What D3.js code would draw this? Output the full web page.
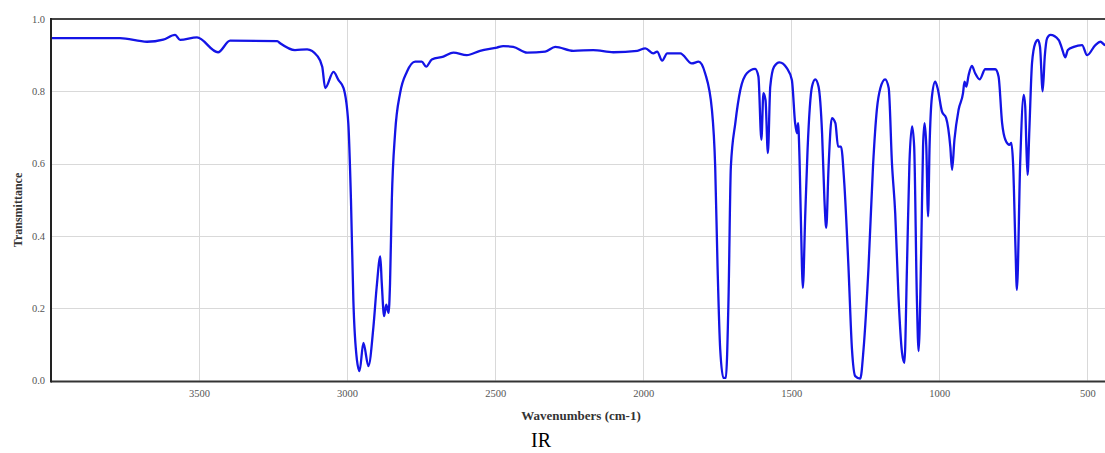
<!DOCTYPE html>
<html>
<head>
<meta charset="utf-8">
<script src="https://cdn.jsdelivr.net/npm/d3@7/dist/d3.min.js"></script>
<style>
  body { margin: 0; background: #fff; }
  svg { display: block; }
  .grid line { stroke: #d9d9d9; stroke-width: 1; }
</style>
</head>
<body>
<svg width="1105" height="453"></svg>
<script>
// spectrum: wavenumber (cm-1) and transmittance
var wavenumbers = [4000, 3767, 3676, 3621, 3581, 3564, 3507, 3436, 3395, 3236, 3226, 3176, 3135, 3101, 3084,
  3074, 3046, 3029, 3012, 2996, 2987, 2979, 2967, 2958, 2945, 2928, 2911, 2900, 2888, 2883,
  2875, 2868, 2860, 2855, 2849, 2838, 2821, 2798, 2770, 2748, 2733, 2714, 2675, 2641, 2596,
  2551, 2494, 2473, 2439, 2392, 2331, 2297, 2236, 2169, 2101, 2020, 1993, 1966, 1953, 1936,
  1919, 1875, 1836, 1813, 1791, 1768, 1757, 1749, 1740, 1729, 1721, 1712, 1704, 1689, 1672,
  1650, 1622, 1611, 1601, 1594, 1587, 1579, 1571, 1558, 1540, 1515, 1498, 1487, 1481, 1477,
  1472, 1464, 1461, 1453, 1445, 1430, 1419, 1408, 1396, 1388, 1382, 1374, 1363, 1351, 1342,
  1332, 1321, 1307, 1295, 1284, 1267, 1256, 1239, 1224, 1211, 1199, 1183, 1171, 1160, 1149,
  1138, 1126, 1118, 1109, 1101, 1092, 1085, 1076, 1070, 1061, 1055, 1050, 1044, 1038, 1033,
  1025, 1014, 1006, 991, 977, 963, 957, 949, 935, 920, 915, 909, 901, 890, 879,
  864, 845, 811, 800, 788, 777, 763, 757, 751, 743, 738, 727, 715, 710, 706,
  702, 696, 687, 676, 667, 660, 651, 644, 636, 625, 597, 586, 575, 566, 546,
  518, 501, 473, 456, 440, 400];
var transmittance = [0.947, 0.947, 0.937, 0.943, 0.956, 0.942, 0.949, 0.908, 0.94, 0.939, 0.933, 0.914, 0.916, 0.898, 0.868,
  0.809, 0.854, 0.831, 0.809, 0.712, 0.50, 0.224, 0.058, 0.026, 0.104, 0.04, 0.15, 0.26, 0.343, 0.27,
  0.178, 0.21, 0.187, 0.27, 0.5, 0.684, 0.795, 0.854, 0.882, 0.882, 0.868, 0.888, 0.896, 0.907, 0.90,
  0.912, 0.921, 0.925, 0.923, 0.907, 0.91, 0.923, 0.912, 0.914, 0.908, 0.912, 0.919, 0.905, 0.91, 0.885,
  0.905, 0.905, 0.877, 0.882, 0.85, 0.749, 0.592, 0.316, 0.086, 0.007, 0.007, 0.224, 0.592, 0.712, 0.804,
  0.85, 0.862, 0.841, 0.666, 0.795, 0.776, 0.629, 0.813, 0.868, 0.88, 0.864, 0.831, 0.712, 0.684, 0.712,
  0.61, 0.316, 0.256, 0.454, 0.638, 0.813, 0.833, 0.813, 0.684, 0.5, 0.422, 0.592, 0.726, 0.712, 0.647,
  0.647, 0.546, 0.316, 0.086, 0.012, 0.005, 0.086, 0.316, 0.592, 0.749, 0.809, 0.833, 0.809, 0.601, 0.463,
  0.233, 0.077, 0.049, 0.325, 0.601, 0.703, 0.647, 0.233, 0.081, 0.371, 0.647, 0.712, 0.647, 0.454, 0.647,
  0.785, 0.827, 0.809, 0.744, 0.726, 0.647, 0.583, 0.666, 0.749, 0.795, 0.827, 0.813, 0.845, 0.87, 0.85,
  0.833, 0.861, 0.861, 0.841, 0.712, 0.666, 0.652, 0.657, 0.601, 0.371, 0.251, 0.601, 0.79, 0.758, 0.647,
  0.569, 0.693, 0.878, 0.933, 0.942, 0.923, 0.80, 0.896, 0.947, 0.956, 0.942, 0.919, 0.894, 0.914, 0.923,
  0.928, 0.90, 0.928, 0.937, 0.928, 0.928];

var xTicks = [3500, 3000, 2500, 2000, 1500, 1000, 500];
var yTicks = [0.0, 0.2, 0.4, 0.6, 0.8, 1.0];

var svg = d3.select("svg"),
  margin = { top: 19, left: 51, bottom: 72 },
  plotRight = 1117, // plot runs past the window edge, like the reference
  height = +svg.attr("height") - margin.top - margin.bottom;

var x = d3.scaleLinear().domain([4000, 400]).range([margin.left, plotRight]),
  y = d3.scaleLinear().domain([0, 1]).range([margin.top + height - 0.5, margin.top]);

var data = wavenumbers.map(function(w, i) {
  return { w: w, t: transmittance[i] };
});

// grid
var grid = svg.append("g").attr("class", "grid");
grid.selectAll("line.v").data(xTicks).enter().append("line")
  .attr("class", "v")
  .attr("x1", function(d) { return Math.round(x(d)) + 0.5; })
  .attr("x2", function(d) { return Math.round(x(d)) + 0.5; })
  .attr("y1", y(1)).attr("y2", y(0));
grid.selectAll("line.h").data(yTicks.slice(1, 5)).enter().append("line")
  .attr("class", "h")
  .attr("x1", x(4000)).attr("x2", plotRight)
  .attr("y1", function(d) { return Math.round(y(d)) + 0.5; })
  .attr("y2", function(d) { return Math.round(y(d)) + 0.5; });

// axes
var xAxis = d3.axisBottom(x).tickValues(xTicks).tickSize(0).tickPadding(9).tickFormat(d3.format("d")),
  yAxis = d3.axisLeft(y).tickValues(yTicks).tickSize(0).tickPadding(6).tickFormat(d3.format(".1f"));

function styleAxis(g) {
  g.select(".domain").remove();
  g.attr("font-family", "Liberation Serif, serif").attr("font-size", 10.5);
  g.selectAll(".tick text").attr("fill", "#555");
}

svg.append("g")
  .attr("class", "axis axis--x")
  .attr("transform", "translate(0," + y(0) + ")")
  .call(xAxis)
  .call(styleAxis);

svg.append("g")
  .attr("class", "axis axis--y")
  .attr("transform", "translate(" + x(4000) + ",0)")
  .call(yAxis)
  .call(styleAxis);

// spectrum
svg.append("defs").append("clipPath")
  .attr("id", "clip")
  .append("rect")
  .attr("x", x(4000)).attr("y", y(1) - 2)
  .attr("width", plotRight - x(4000)).attr("height", y(0) - y(1) + 4);

var line = d3.line()
  .curve(d3.curveMonotoneX)
  .x(function(d) { return x(d.w); })
  .y(function(d) { return y(d.t); });

svg.append("path")
  .datum(data)
  .attr("clip-path", "url(#clip)")
  .attr("fill", "none")
  .attr("stroke", "#1414e6")
  .attr("stroke-width", 2.3)
  .attr("stroke-linejoin", "round")
  .attr("d", line);

// frame
svg.append("line")
  .attr("x1", x(4000)).attr("x2", plotRight)
  .attr("y1", y(1)).attr("y2", y(1))
  .attr("stroke", "#444").attr("stroke-width", 2);
svg.append("line")
  .attr("x1", x(4000)).attr("x2", plotRight)
  .attr("y1", y(0) + 1).attr("y2", y(0) + 1)
  .attr("stroke", "#333").attr("stroke-width", 2);
svg.append("line")
  .attr("x1", x(4000)).attr("x2", x(4000))
  .attr("y1", y(1) - 1).attr("y2", y(0) + 2)
  .attr("stroke", "#222").attr("stroke-width", 2);

// labels
svg.append("text")
  .attr("x", 581).attr("y", 420)
  .attr("text-anchor", "middle")
  .style("font-family", "Liberation Serif, serif")
  .style("font-size", "13px")
  .style("font-weight", "bold")
  .style("fill", "#333")
  .text("Wavenumbers (cm-1)");

svg.append("text")
  .attr("transform", "translate(22,210) rotate(-90)")
  .attr("text-anchor", "middle")
  .style("font-family", "Liberation Serif, serif")
  .style("font-size", "12px")
  .style("font-weight", "bold")
  .style("fill", "#333")
  .text("Transmittance");

svg.append("text")
  .attr("x", 541).attr("y", 447)
  .attr("text-anchor", "middle")
  .style("font-family", "Liberation Serif, serif")
  .style("font-size", "20px")
  .style("fill", "#000")
  .text("IR");
</script>
</body>
</html>
